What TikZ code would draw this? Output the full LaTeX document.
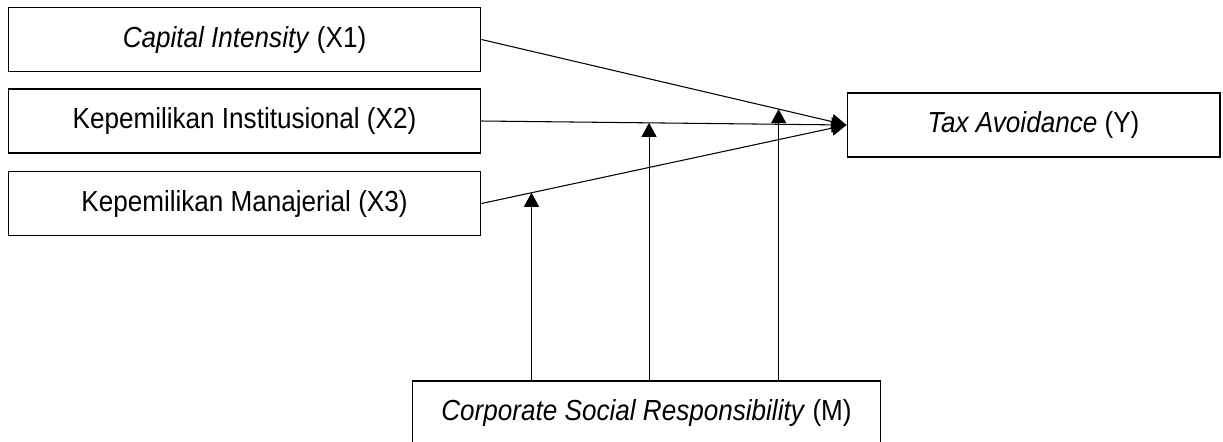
\documentclass[tikz,border=0pt]{standalone}
\usepackage{fontspec}
\setmainfont{Liberation Sans}[FakeStretch=0.9]
\usetikzlibrary{arrows.meta,calc}
\begin{document}
\begin{tikzpicture}[
			x=0.02cm, y=-0.02cm,
			every node/.style={font=\fontsize{16.5}{19}\selectfont},
			var/.style={rectangle,draw,line width=0.6pt,minimum width=9.46cm,minimum height=1.28cm},
			path/.style={line width=0.6pt,-{Triangle[length=0.3cm,width=0.3cm]}},
			mod/.style={line width=0.6pt,-{Triangle[length=0.28cm,width=0.3cm]}}
		]
		\clip (0,0) rectangle (1223,441);
		\node[var] (x1) at (244.5,39.5) {\textit{Capital Intensity} (X1)};
		\node[var] (x2) at (244.5,121) {Kepemilikan Institusional (X2)};
		\node[var] (x3) at (244.5,203.5) {Kepemilikan Manajerial (X3)};
		\node[var,minimum width=7.46cm] (y) at (1033.5,125) {\textit{Tax Avoidance} (Y)};
		\node[var,minimum width=9.38cm] (m) at (646.5,413) {\textit{Corporate Social Responsibility} (M)};
		\draw[path] (x1.east) -- (y.west);
		\draw[path] (x2.east) -- (y.west);
		\draw[path] (x3.east) -- (y.west);
		% moderating effects
		\coordinate (m3) at ($(x3.east)!0.137!(y.west)$);
		\coordinate (m2) at ($(x2.east)!0.459!(y.west)$);
		\coordinate (m1) at ($(x1.east)!0.814!(y.west)$);
		\draw[mod] (m.north -| m3) -- (m3);
		\draw[mod] (m.north -| m2) -- (m2);
		\draw[mod] (m.north -| m1) -- (m1);
	\end{tikzpicture}
\end{document}
